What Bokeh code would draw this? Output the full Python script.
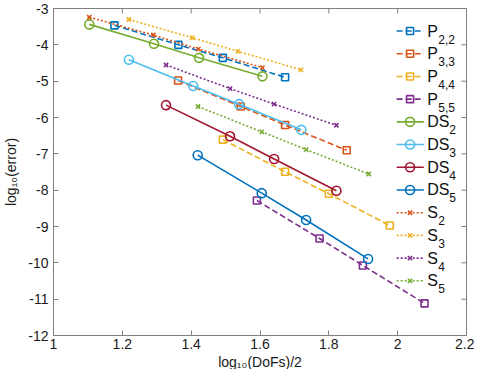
import math
from bokeh.plotting import figure
from bokeh.models import Range1d, FixedTicker, CustomJSTickFormatter, Title
from bokeh.core.properties import value
from bokeh.embed import file_html
from bokeh.resources import INLINE

# ---- data ----
x_P22 = [1.177, 1.363, 1.492, 1.673]
y_P22 = [-3.464, -4.000, -4.358, -4.894]
x_P33 = [1.362, 1.544, 1.673, 1.852]
y_P33 = [-4.982, -5.697, -6.206, -6.903]
x_P44 = [1.492, 1.673, 1.800, 1.977]
y_P44 = [-6.608, -7.492, -8.098, -8.974]
x_P55 = [1.591, 1.773, 1.899, 2.078]
y_P55 = [-8.286, -9.330, -10.072, -11.117]

x_DS2 = [1.104, 1.292, 1.423, 1.607]
y_DS2 = [-3.437, -3.972, -4.358, -4.867]
x_DS3 = [1.219, 1.406, 1.539, 1.720]
y_DS3 = [-4.412, -5.135, -5.633, -6.340]
x_DS4 = [1.327, 1.513, 1.641, 1.822]
y_DS4 = [-5.660, -6.517, -7.144, -8.017]
x_DS5 = [1.419, 1.605, 1.734, 1.914]
y_DS5 = [-7.037, -8.082, -8.821, -9.893]

x_S2 = [1.104, 1.290, 1.421, 1.607]
y_S2 = [-3.241, -3.731, -4.117, -4.626]
x_S3 = [1.219, 1.403, 1.536, 1.719]
y_S3 = [-3.303, -3.804, -4.179, -4.688]
x_S4 = [1.327, 1.513, 1.641, 1.822]
y_S4 = [-4.554, -5.205, -5.633, -6.215]
x_S5 = [1.420, 1.605, 1.734, 1.916]
y_S5 = [-5.697, -6.394, -6.884, -7.554]

legend_main = ["P", "P", "P", "P", "DS", "DS", "DS", "DS", "S", "S", "S", "S"]
legend_sub = ["2,2", "3,3", "4,4", "5,5", "2", "3", "4", "5", "2", "3", "4", "5"]

x_ticks = [1.0, 1.2, 1.4, 1.6, 1.8, 2.0, 2.2]
y_ticks = [-12, -11, -10, -9, -8, -7, -6, -5, -4, -3]
x_title = "log\u2081\u2080(DoFs)/2"
y_title = "log\u2081\u2080(error)"

# ---- styles ----
BLUE, ORANGE, YELLOW, PURPLE = "#0072BD", "#D95319", "#EDB120", "#7E2F8E"
GREEN, LBLUE, DRED = "#77AC30", "#4DBEEE", "#A2142F"
FONT = "Liberation Sans"
AXC = "#808080"

series = [
    (x_P22, y_P22, BLUE, "6 3", "square"),
    (x_P33, y_P33, ORANGE, "6 3", "square"),
    (x_P44, y_P44, YELLOW, "6 3", "square"),
    (x_P55, y_P55, PURPLE, "6 3", "square"),
    (x_DS2, y_DS2, GREEN, "solid", "circle"),
    (x_DS3, y_DS3, LBLUE, "solid", "circle"),
    (x_DS4, y_DS4, DRED, "solid", "circle"),
    (x_DS5, y_DS5, BLUE, "solid", "circle"),
    (x_S2, y_S2, ORANGE, "2 2", "x"),
    (x_S3, y_S3, YELLOW, "2 2", "x"),
    (x_S4, y_S4, PURPLE, "2 2", "x"),
    (x_S5, y_S5, GREEN, "2 2", "x"),
]
msize = {"square": 7, "circle": 9, "x": 6}

XMIN, XMAX, YMIN, YMAX = 1.0, 2.2, -12.0, -3.0

p = figure(width=474, height=369, output_backend="svg", toolbar_location=None,
           x_range=Range1d(XMIN, XMAX), y_range=Range1d(YMIN, YMAX),
           min_border_left=38, min_border_right=8, min_border_top=8, min_border_bottom=0)
p.background_fill_color = "white"
p.border_fill_color = "white"
p.outline_line_color = AXC
p.xgrid.visible = False
p.ygrid.visible = False

fmt = CustomJSTickFormatter(code="return tick.toFixed(1).replace(/\\.0$/, '');")
yfmt = CustomJSTickFormatter(code="return tick.toFixed(0);")


def style_axis(ax):
    ax.axis_line_color = AXC
    ax.major_tick_line_color = AXC
    ax.major_tick_in = 5
    ax.major_tick_out = 0
    ax.minor_tick_line_color = None
    ax.major_label_text_font = FONT
    ax.major_label_text_font_size = "14px"
    ax.major_label_text_color = "#1a1a1a"
    ax.axis_label_text_font = FONT
    ax.axis_label_text_font_size = "14px"
    ax.axis_label_text_font_style = "normal"
    ax.axis_label_text_color = "#1a1a1a"


xa = p.xaxis[0]
xa.ticker = FixedTicker(ticks=x_ticks)
xa.formatter = fmt
xa.major_label_standoff = 3
style_axis(xa)
ya = p.yaxis[0]
ya.ticker = FixedTicker(ticks=y_ticks)
ya.formatter = yfmt
ya.axis_label = y_title
ya.axis_label_standoff = 6
style_axis(ya)

# x title in the panel below the axis
p.add_layout(Title(text=x_title, align="center", standoff=0, text_font=FONT,
                   text_font_size="14px", text_font_style="normal",
                   text_color="#1a1a1a"), "below")

# inward ticks on the top and right edges of the box (half of each dash is clipped)
p.scatter(x_ticks, [YMAX] * len(x_ticks), marker="dash", angle=math.pi / 2, size=10,
          line_color=AXC, line_width=1)
p.scatter([XMAX] * len(y_ticks), y_ticks, marker="dash", size=10,
          line_color=AXC, line_width=1)

for xs, ys, col, dash, mk in series:
    p.line(xs, ys, line_color=col, line_width=1.6, line_dash=dash)
    p.scatter(xs, ys, marker=mk, size=msize[mk], line_color=col, line_width=1.6,
              fill_color=None)

# ---- legend (manual, so that subscripts are possible) ----
LX0, LX1, LXM, LXT = 1.997, 2.076, 2.036, 2.086
LY0, LDY = -3.62, -0.625
for i, (xs, ys, col, dash, mk) in enumerate(series):
    ly = LY0 + i * LDY
    p.line([LX0, LX1], [ly, ly], line_color=col, line_width=1.6, line_dash=dash)
    p.scatter([LXM], [ly], marker=mk, size=msize[mk], line_color=col, line_width=1.6,
              fill_color=None)
    p.text([LXT], [ly], text=[legend_main[i]], text_font=value(FONT),
           text_font_size="16px", text_baseline="middle", text_align="left",
           text_color="#111111")
    off = 11 if legend_main[i] != "DS" else 22
    p.text([LXT], [ly], text=[legend_sub[i]], text_font=value(FONT),
           text_font_size="12px", text_baseline="middle", text_align="left",
           x_offset=off, y_offset=8, text_color="#111111")

open("out.html", "w").write(file_html(p, INLINE))
